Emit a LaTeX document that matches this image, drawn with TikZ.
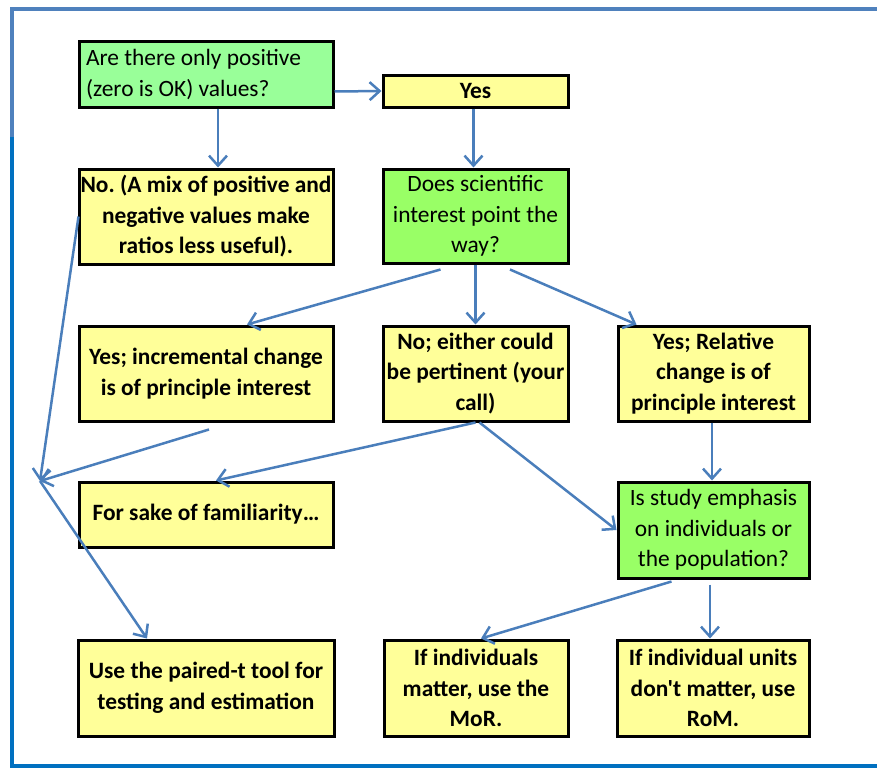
\documentclass[tikz,border=0pt]{standalone}
\usepackage{fontspec}
\setmainfont{Carlito}[Ligatures=TeXOff]
\usetikzlibrary{arrows.meta}

\definecolor{askgreen}{HTML}{99FF99}
\definecolor{leafgreen}{HTML}{99FF66}
\definecolor{ansyellow}{HTML}{FFFF99}
\definecolor{linkblue}{HTML}{4A7EBB}
\definecolor{frameblue}{HTML}{4F81BD}
\definecolor{framedark}{HTML}{0070C0}

\begin{document}
\begin{tikzpicture}[x=1pt, y=-1pt,
    box/.style={draw=black, line width=3pt, inner sep=0pt, align=flush center,
      font=\fontsize{23.4}{30.5}\selectfont\frenchspacing},
    askbox/.style={box, fill=askgreen},
    querybox/.style={box, fill=leafgreen},
    ansbox/.style={box, fill=ansyellow, font=\fontsize{23.4}{30.5}\selectfont\frenchspacing\bfseries},
    link/.style={draw=linkblue, line width=2.5pt,
      -{Straight Barb[length=10pt,width=18pt,line width=2.5pt]}}]

\useasboundingbox (0,0) rectangle (877,768);

% Frame round the chart
\draw[frameblue, line width=4pt] (877,9) -- (12,9) -- (12,137);
\draw[framedark, line width=4pt] (12,137) -- (12,766) -- (877,766);

% Define the boxes
\node[askbox, text width=240pt, align=flush left, inner xsep=7pt, minimum height=65pt]
  (only) at (206,74.5) {Are there only positive\\(zero is OK) values?};
\node[ansbox, minimum width=185pt, minimum height=32pt] (yes) at (475.5,91) {Yes};
\node[ansbox, minimum width=254pt, minimum height=95pt] (nomix) at (206,216.5)
  {No. (A mix of positive and\\negative values make\\ratios less useful).};
\node[querybox, minimum width=185pt, minimum height=94pt] (sci) at (475.5,216)
  {Does scientific\\interest point the\\way?};

\node[ansbox, minimum width=254pt, minimum height=95pt] (incr) at (206,373.5)
  {Yes; incremental change\\is of principle interest};
\node[ansbox, minimum width=185pt, minimum height=95pt] (either) at (475.5,373.5)
  {No; either could\\be pertinent (your\\call)};
\node[ansbox, minimum width=191pt, minimum height=95pt] (rel) at (713.5,373.5)
  {Yes; Relative\\change is of\\principle interest};

\node[ansbox, minimum width=254pt, minimum height=65pt] (fam) at (206,514.5)
  {For sake of familiarity…};
\node[querybox, minimum width=191pt, minimum height=96pt] (emph) at (713.5,530)
  {Is study emphasis\\on individuals or\\the population?};

\node[ansbox, minimum width=256pt, minimum height=96pt] (paired) at (206,688)
  {Use the paired-t tool for\\testing and estimation};
\node[ansbox, minimum width=184pt, minimum height=96pt] (mor) at (476,688)
  {If individuals\\matter, use the\\MoR.};
\node[ansbox, minimum width=192pt, minimum height=96pt] (rom) at (713,688)
  {If individual units\\don't matter, use\\RoM.};

% Meeting point of the two left-hand arrows
\coordinate (meet) at (40,481);

% Arrows from the first question
\draw[link] ([xshift=12pt]only.south) -- ([xshift=12pt]nomix.north);
\draw[link] ([yshift=-17pt]only.east) -- (yes.west);
\draw[link] ([xshift=-2pt]yes.south) -- ([xshift=-2pt]sci.north);

% Arrows from the scientific interest question
\draw[link] ([xshift=-35pt,yshift=-5pt]sci.south) -- ([xshift=41pt]incr.north);
\draw[link] (sci.south) -- (either.north);
\draw[link] ([xshift=34.5pt,yshift=-5pt]sci.south) -- ([xshift=-77pt]rel.north);

% Arrows to the paired-t tool
\draw[link] ([xshift=1pt]nomix.west) -- (meet);
\draw[link] ([xshift=3pt,yshift=-7pt]incr.south) -- (meet);
\draw[link] (meet) -- ([xshift=-59pt]paired.north);

% Arrows from the undecided box
\draw[link] (either.south) -- ([xshift=10pt]fam.north);
\draw[link] ([xshift=4pt]either.south) -- (emph.west);

% Arrows down the right-hand side
\draw[link] ([xshift=-1.5pt]rel.south) -- ([xshift=-1.5pt]emph.north);
\draw[link] ([xshift=-42pt,yshift=-2pt]emph.south) -- ([xshift=5pt]mor.north);
\draw[link] ([xshift=-3.5pt,yshift=-5pt]emph.south) -- ([xshift=-3pt]rom.north);

\end{tikzpicture}
\end{document}
